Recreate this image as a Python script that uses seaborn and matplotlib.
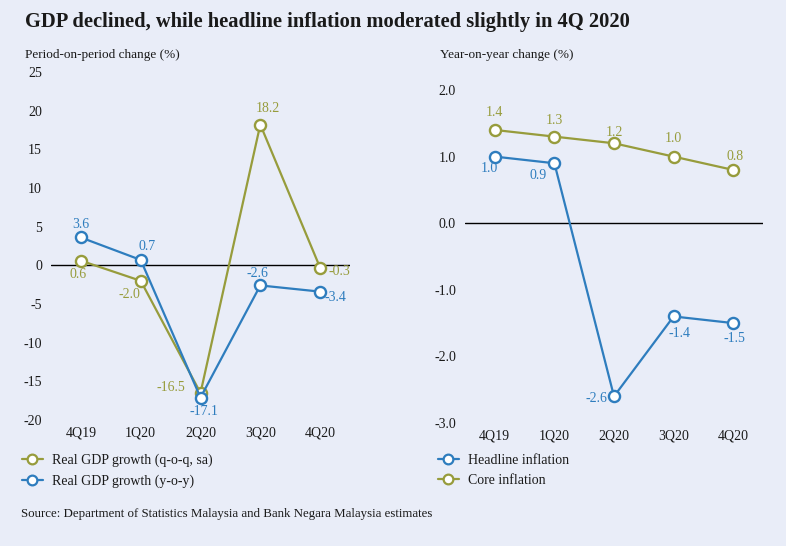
import numpy as np
import pandas as pd
import seaborn as sns
import matplotlib
matplotlib.use("Agg")
import matplotlib.pyplot as plt
from matplotlib.lines import Line2D
from matplotlib.ticker import FormatStrFormatter, MultipleLocator

# data
quarters = ["4Q19", "1Q20", "2Q20", "3Q20", "4Q20"]
gdp_qoq = [0.6, -2.0, -16.5, 18.2, -0.3]
gdp_yoy = [3.6, 0.7, -17.1, -2.6, -3.4]
headline = [1.0, 0.9, -2.6, -1.4, -1.5]
core = [1.4, 1.3, 1.2, 1.0, 0.8]

# where each value label sits relative to its point (pixels)
qoq_offsets = [(-3, -14), (-11, -14), (-30, 5), (8, 16), (19, -4)]
yoy_offsets = [(0, 13), (6, 13), (3, -14), (-3, 12), (15, -6)]
headline_offsets = [(-5, -12), (-16, -12), (-18, -2), (6, -17), (1, -15)]
core_offsets = [(0, 17), (0, 16), (0, 11), (0, 18), (2, 13)]

BLUE = "#2e7dbe"
OLIVE = "#979c3c"
BG = "#e9edf8"
TXT = "#1a1a1a"

sns.set_theme(style="white")
plt.rcParams["font.family"] = ["Liberation Serif", "DejaVu Serif"]
plt.rcParams["axes.unicode_minus"] = False

fig = plt.figure(figsize=(7.86, 5.46), dpi=100, facecolor=BG)
ax1 = fig.add_axes([51 / 786, 1 - 420 / 546, 299 / 786, 348 / 546])
ax2 = fig.add_axes([465 / 786, 1 - 423 / 546, 298 / 786, 333 / 546])


def draw_series(ax, values, color, offsets):
    sns.lineplot(x=quarters, y=values, ax=ax, sort=False, color=color,
                 linewidth=1.6, marker="o", markersize=8,
                 markerfacecolor="white", markeredgecolor=color,
                 markeredgewidth=1.7)
    for i, (v, (dx, dy)) in enumerate(zip(values, offsets)):
        ax.annotate(f"{v:.1f}", (i, v), xytext=(dx, dy),
                    textcoords="offset pixels", ha="center", va="center",
                    color=color, fontsize=10)


draw_series(ax1, gdp_qoq, OLIVE, qoq_offsets)
draw_series(ax1, gdp_yoy, BLUE, yoy_offsets)
draw_series(ax2, core, OLIVE, core_offsets)
draw_series(ax2, headline, BLUE, headline_offsets)

ax1.set_ylim(-20, 25)
ax1.yaxis.set_major_locator(MultipleLocator(5))
ax1.yaxis.set_major_formatter(FormatStrFormatter("%d"))
ax2.set_ylim(-3, 2)
ax2.yaxis.set_major_locator(MultipleLocator(1))
ax2.yaxis.set_major_formatter(FormatStrFormatter("%.1f"))

for ax in (ax1, ax2):
    ax.set_facecolor(BG)
    ax.set_xlim(-0.5, 4.5)
    ax.axhline(0, color="black", linewidth=1, zorder=1)
    for s in ax.spines.values():
        s.set_visible(False)
    ax.tick_params(axis="y", length=0, pad=6.5, labelsize=10, labelcolor=TXT)
    ax.tick_params(axis="x", length=0, pad=4.5, labelsize=10, labelcolor=TXT)
    ax.set_xlabel("")
    ax.set_ylabel("")
    ax.grid(False)

fig.text(25 / 786, 1 - 22 / 546,
         "GDP declined, while headline inflation moderated slightly in 4Q 2020",
         fontsize=14.8, fontweight="bold", color=TXT, ha="left", va="center")
fig.text(25 / 786, 1 - 55 / 546, "Period-on-period change (%)",
         fontsize=9.5, color=TXT, ha="left", va="center")
fig.text(440 / 786, 1 - 55 / 546, "Year-on-year change (%)",
         fontsize=9.5, color=TXT, ha="left", va="center")


def handle(color):
    return Line2D([], [], color=color, linewidth=1.6, marker="o", markersize=7,
                  markerfacecolor="white", markeredgecolor=color,
                  markeredgewidth=1.6)


legend_kw = dict(loc="upper left", frameon=False, fontsize=10,
                 handlelength=1.5, handletextpad=0.65, labelspacing=0.5,
                 borderpad=0, borderaxespad=0, labelcolor=TXT)
fig.legend([handle(OLIVE), handle(BLUE)],
           ["Real GDP growth (q-o-q, sa)", "Real GDP growth (y-o-y)"],
           bbox_to_anchor=(22 / 786, 1 - 454 / 546), **legend_kw)
fig.legend([handle(BLUE), handle(OLIVE)],
           ["Headline inflation", "Core inflation"],
           bbox_to_anchor=(438 / 786, 1 - 454 / 546), **legend_kw)

fig.text(21 / 786, 1 - 514 / 546,
         "Source: Department of Statistics Malaysia and Bank Negara Malaysia estimates",
         fontsize=9.3, color=TXT, ha="left", va="center")

fig.savefig("out.png", dpi=100, facecolor=BG)
